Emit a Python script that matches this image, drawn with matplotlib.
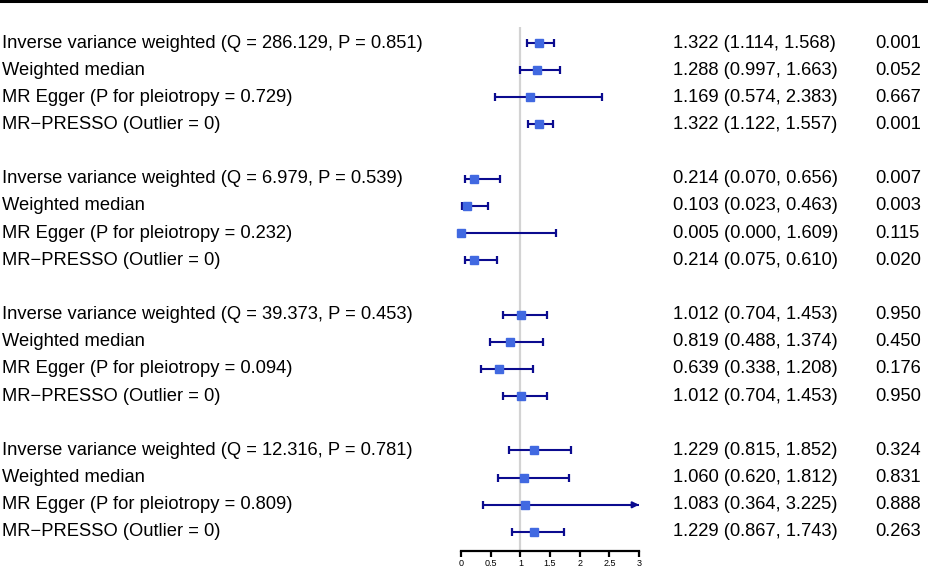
import matplotlib
matplotlib.use("Agg")
import matplotlib.pyplot as plt
from matplotlib.transforms import blended_transform_factory
from matplotlib.lines import Line2D

plt.rcParams['font.family'] = ['Liberation Sans', 'DejaVu Sans']

methods = ["Inverse variance weighted (Q = 286.129, P = 0.851)", "Weighted median",
           "MR Egger (P for pleiotropy = 0.729)", "MR\u2212PRESSO (Outlier = 0)",
           "Inverse variance weighted (Q = 6.979, P = 0.539)", "Weighted median",
           "MR Egger (P for pleiotropy = 0.232)", "MR\u2212PRESSO (Outlier = 0)",
           "Inverse variance weighted (Q = 39.373, P = 0.453)", "Weighted median",
           "MR Egger (P for pleiotropy = 0.094)", "MR\u2212PRESSO (Outlier = 0)",
           "Inverse variance weighted (Q = 12.316, P = 0.781)", "Weighted median",
           "MR Egger (P for pleiotropy = 0.809)", "MR\u2212PRESSO (Outlier = 0)"]
estimate = [1.322, 1.288, 1.169, 1.322,
            0.214, 0.103, 0.005, 0.214,
            1.012, 0.819, 0.639, 1.012,
            1.229, 1.060, 1.083, 1.229]
lower = [1.114, 0.997, 0.574, 1.122,
         0.070, 0.023, 0.000, 0.075,
         0.704, 0.488, 0.338, 0.704,
         0.815, 0.620, 0.364, 0.867]
upper = [1.568, 1.663, 2.383, 1.557,
         0.656, 0.463, 1.609, 0.610,
         1.453, 1.374, 1.208, 1.453,
         1.852, 1.812, 3.225, 1.743]
pvals = ["0.001", "0.052", "0.667", "0.001",
         "0.007", "0.003", "0.115", "0.020",
         "0.950", "0.450", "0.176", "0.950",
         "0.324", "0.831", "0.888", "0.263"]
xticks = [0, 0.5, 1, 1.5, 2, 2.5, 3]
xtick_labels = ["0", "0.5", "1", "1.5", "2", "2.5", "3"]

W, H = 929, 568
fig = plt.figure(figsize=(W/100, H/100), dpi=100)
ax = fig.add_axes([461/W, 1-551/H, 178/W, 524/H])
ax.set_xlim(0, 3)
ax.set_ylim(18.70, -0.589)

# row positions: groups of 4 separated by a blank row
rows = [g*5 + i for g in range(4) for i in range(4)]

ax.axvline(1, color='#d3d3d3', lw=1.6, zorder=0)

line_c = '#0b0b8f'
box_c = '#4169e1'
xmax = 3.0
for y, e, lo, hi in zip(rows, estimate, lower, upper):
    hi_c = min(hi, xmax)
    ax.plot([lo, hi_c], [y, y], color=line_c, lw=1.5, zorder=2, clip_on=False,
            solid_capstyle='butt')
    ax.plot([lo], [y], marker='|', ms=6, mew=1.6, color=line_c, zorder=2, clip_on=False)
    if hi > xmax:
        ax.annotate('', xy=(xmax, y), xytext=(xmax - 0.12, y),
                    arrowprops=dict(arrowstyle='-|>', color=line_c, lw=1.5,
                                    mutation_scale=9, shrinkA=0, shrinkB=0),
                    annotation_clip=False)
    else:
        ax.plot([hi], [y], marker='|', ms=6, mew=1.6, color=line_c, zorder=2, clip_on=False)
    ax.plot([e], [y], marker='s', ms=5.5, color=box_c, mec=box_c, zorder=3, clip_on=False)

for s in ['top', 'right', 'left']:
    ax.spines[s].set_visible(False)
ax.spines['bottom'].set_linewidth(1.6)
ax.set_yticks([])
ax.set_xticks(xticks)
ax.set_xticklabels(xtick_labels)
ax.tick_params(axis='x', length=4, width=1.6, labelsize=6.5, pad=2)

tr = blended_transform_factory(fig.transFigure, ax.transData)
fs = 13.2
for y, m, e, lo, hi, p in zip(rows, methods, estimate, lower, upper, pvals):
    ax.text(2/W, y, m, transform=tr, ha='left', va='center', fontsize=fs, clip_on=False)
    ax.text(673/W, y, f"{e:.3f} ({lo:.3f}, {hi:.3f})", transform=tr, ha='left',
            va='center', fontsize=fs, clip_on=False)
    ax.text(875/W, y, p, transform=tr, ha='left', va='center', fontsize=fs, clip_on=False)

fig.add_artist(Line2D([0, 1], [1-1.2/H, 1-1.2/H], transform=fig.transFigure,
                      color='black', lw=2.2))

fig.savefig('out.png', dpi=100)
